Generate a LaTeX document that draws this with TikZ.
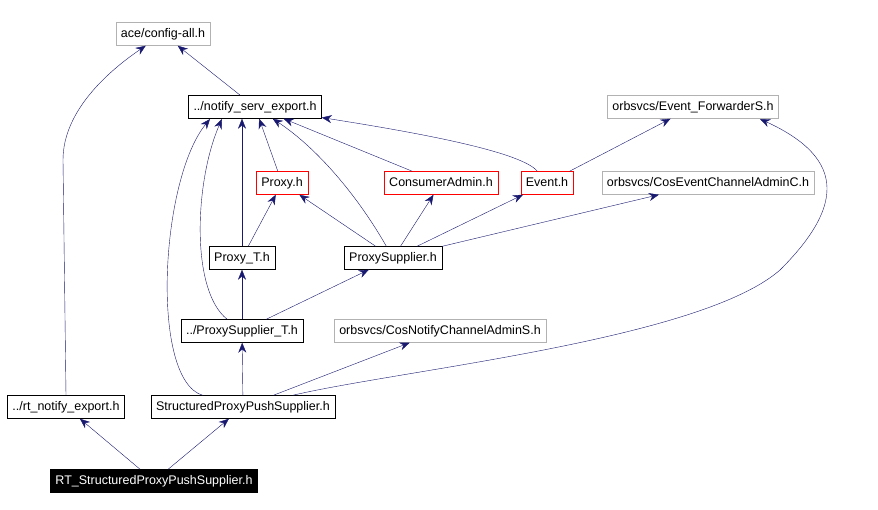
\documentclass[tikz,border=0pt]{standalone}
\usepackage{fontspec}
\setmainfont{Liberation Sans}
\usetikzlibrary{arrows.meta}
\definecolor{edgeblue}{RGB}{25,25,112}
\tikzset{
  file/.style={draw=black,fill=white,inner sep=0pt,minimum height=23pt,text height=9pt,text depth=2.5pt,font=\fontsize{12.5}{14}\selectfont,inner xsep=5pt},
  redfile/.style={file,draw=red},
  extfile/.style={file,draw=gray!60},
  mainfile/.style={file,fill=black,text=white},
  dep/.style={draw=edgeblue,-{Stealth[length=10pt,width=8pt]}}
}
\begin{document}
\begin{tikzpicture}[x=1pt,y=-1pt]
		\useasboundingbox (0,0) rectangle (878,510);
		\node[extfile] (config) at (163,34) {ace/config-all.h};
		\node[file] (servexp) at (255,107) {../notify\_serv\_export.h};
		\node[extfile] (fwds) at (693,107) {orbsvcs/Event\_ForwarderS.h};
		\node[redfile] (proxy) at (282,183) {Proxy.h};
		\node[redfile] (cadmin) at (441,183) {ConsumerAdmin.h};
		\node[redfile] (event) at (547,183) {Event.h};
		\node[extfile] (cosevc) at (708,183) {orbsvcs/CosEventChannelAdminC.h};
		\node[file] (proxyt) at (242,258) {Proxy\_T.h};
		\node[file] (psup) at (393,258) {ProxySupplier.h};
		\node[file] (psupt) at (242,331) {../ProxySupplier\_T.h};
		\node[extfile] (cosnca) at (440,331) {orbsvcs/CosNotifyChannelAdminS.h};
		\node[file] (rtexp) at (66,407) {../rt\_notify\_export.h};
		\node[file] (spps) at (243,407) {StructuredProxyPushSupplier.h};
		\node[mainfile] (rtspps) at (154,481) {RT\_StructuredProxyPushSupplier.h};

		\draw[dep] (rtspps) -- (rtexp);
		\draw[dep] (rtspps) -- (spps);
		\draw[dep] (rtexp.north) -- (63,160) .. controls (63,110) and (110,70) .. (config);
		\draw[dep] (servexp) -- (config);
		\draw[dep] (proxy) -- (servexp);
		\draw[dep] (cadmin) -- (servexp);
		\draw[dep] (event) .. controls (520,150) and (400,130) .. (servexp);
		\draw[dep] (event) -- (fwds);
		\draw[dep] (proxyt) -- (servexp.south west -| proxyt);
		\draw[dep] (proxyt) -- (proxy);
		\draw[dep] (psup) .. controls (360,200) and (320,150) .. (servexp);
		\draw[dep] (psup) -- (proxy);
		\draw[dep] (psup) -- (cadmin);
		\draw[dep] (psup) -- (event);
		\draw[dep] (psup) -- (cosevc);
		\draw[dep] (psupt) .. controls (190,290) and (195,180) .. (222,119);
		\draw[dep] (psupt) -- (proxyt);
		\draw[dep] (psupt) -- (psup);
		\draw[dep] (spps) .. controls (150,380) and (160,180) .. (210,119);
		\draw[dep] (spps) -- (psupt);
		\draw[dep] (spps) -- (cosnca);
		\draw[dep] (spps) .. controls (400,370) and (700,340) .. (780,270) .. controls (840,210) and (850,160) .. (760,119);
\end{tikzpicture}
\end{document}
